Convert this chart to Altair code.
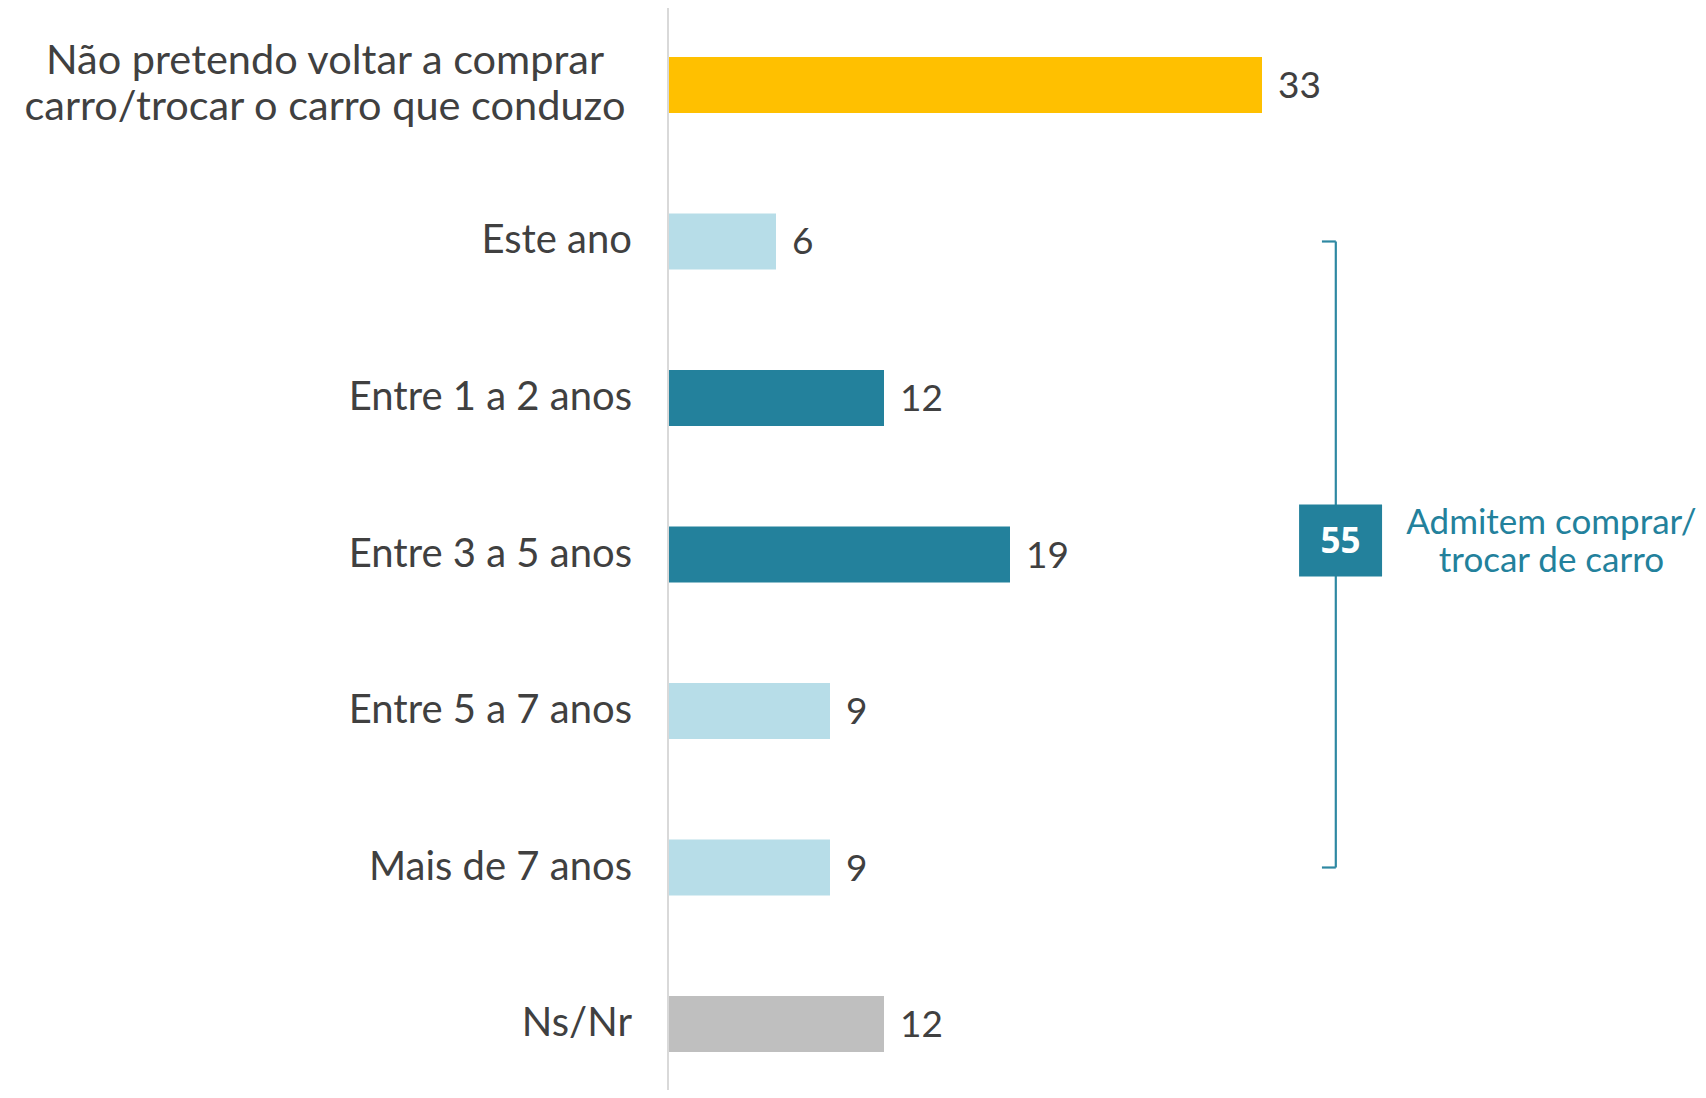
import altair as alt
import pandas as pd

categories = [
    "Não pretendo voltar a comprar carro/trocar o carro que conduzo",
    "Este ano",
    "Entre 1 a 2 anos",
    "Entre 3 a 5 anos",
    "Entre 5 a 7 anos",
    "Mais de 7 anos",
    "Ns/Nr",
]
display_labels = [
    "Não pretendo voltar a comprar\ncarro/trocar o carro que conduzo",
    "Este ano",
    "Entre 1 a 2 anos",
    "Entre 3 a 5 anos",
    "Entre 5 a 7 anos",
    "Mais de 7 anos",
    "Ns/Nr",
]
values = [33, 6, 12, 19, 9, 9, 12]
colors = ["#FFC000", "#B7DDE8", "#23819C", "#23819C", "#B7DDE8", "#B7DDE8", "#BFBFBF"]

group_members = ["Este ano", "Entre 1 a 2 anos", "Entre 3 a 5 anos", "Entre 5 a 7 anos", "Mais de 7 anos"]
group_total = sum(v for c, v in zip(categories, values) if c in group_members)
group_text = "Admitem comprar/\ntrocar de carro"

df = pd.DataFrame({
    "cat": categories,
    "label": display_labels,
    "value": values,
    "color": colors,
    "idx": list(range(len(categories))),
})

W, H = 1030, 1082
PX_PER_UNIT = 18.0
TEXT = "#404040"
TEAL = "#23819C"
BRACKET = "#2E88A2"

x_scale = alt.Scale(domain=[0, W / PX_PER_UNIT], nice=False, zero=True)
y_scale = alt.Scale(domain=categories, range=[0, 1093], paddingInner=0.645, paddingOuter=0.3144)


def YF(field):
    return alt.Y(field, type="nominal", scale=y_scale, axis=None)


def XF(field):
    return alt.X(field, type="quantitative", scale=x_scale, axis=None)


base = alt.Chart(df)

axis_line = base.transform_filter("datum.idx == 0").mark_rule(color="#D9D9D9", strokeWidth=2).encode(
    x=alt.value(0), y=alt.value(0), y2=alt.value(H)
)

bars = base.mark_bar(size=56).encode(
    x=XF("value"),
    y=YF("cat"),
    color=alt.Color("color:N", scale=None),
)

value_text = base.mark_text(align="left", baseline="middle", dx=16, dy=2,
                            fontSize=37, font="Lato", color=TEXT).encode(
    x=XF("value"), y=YF("cat"), text="value:Q"
)

cat_text = base.transform_filter("datum.idx > 0").mark_text(
    align="right", baseline="middle", fontSize=40, font="Lato", color=TEXT
).encode(x=alt.value(-36), y=YF("cat"), text="label:N")

first_text = base.transform_filter("datum.idx == 0").mark_text(
    align="center", baseline="middle", fontSize=41.5, font="Lato", color=TEXT,
    lineBreak="\n", lineHeight=46, dy=-23
).encode(x=alt.value(-343), y=YF("cat"), text="label:N")

ann = pd.DataFrame({
    "top": [group_members[0]],
    "bottom": [group_members[-1]],
    "mid": ["Entre 3 a 5 anos"],
    "bx": [37.1],
    "tx": [36.33],
    "box0": [35.06],
    "box1": [39.67],
    "boxc": [37.36],
    "textx": [49.08],
    "total": [group_total],
    "txt": [group_text],
})
abase = alt.Chart(ann)

bracket_v = abase.mark_rule(color=BRACKET, strokeWidth=2.2).encode(
    x=XF("bx"), y=YF("top"), y2="bottom:N",
)
tick_top = abase.mark_rule(color=BRACKET, strokeWidth=2.2).encode(
    x=XF("tx"), x2="bx:Q", y=YF("top"),
)
tick_bot = abase.mark_rule(color=BRACKET, strokeWidth=2.2).encode(
    x=XF("tx"), x2="bx:Q", y=YF("bottom"),
)
box = abase.mark_bar(size=72, yOffset=-14, color=TEAL).encode(
    x=XF("box0"), x2="box1:Q", y=YF("mid"),
)
box_text = abase.mark_text(align="center", baseline="middle", dy=-13, fontSize=35,
                           font="Open Sans", fontWeight="bold", color="white").encode(
    x=XF("boxc"), y=YF("mid"), text="total:Q",
)
ann_text = abase.mark_text(align="center", baseline="middle", dy=-32, fontSize=35,
                           font="Lato", color=TEAL, lineBreak="\n", lineHeight=38).encode(
    x=XF("textx"), y=YF("mid"), text="txt:N",
)

chart = alt.layer(
    bars, axis_line, value_text, cat_text, first_text,
    bracket_v, tick_top, tick_bot, box, box_text, ann_text,
).properties(
    width=W, height=H,
    autosize=alt.AutoSizeParams(type="none"),
    padding={"left": 660, "top": 0, "right": 0, "bottom": 0},
).configure_view(stroke=None)

chart.save("out.html", embed_options={"renderer": "svg", "actions": False})
